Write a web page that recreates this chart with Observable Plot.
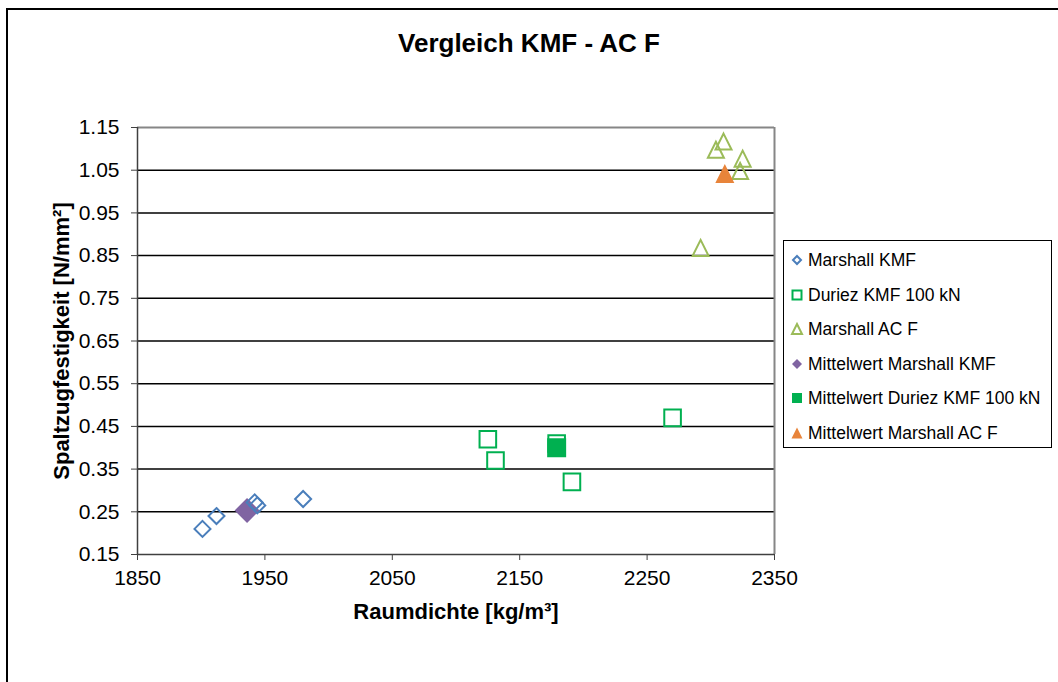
<!DOCTYPE html>
<html><head><meta charset="utf-8">
<script src="https://cdn.jsdelivr.net/npm/d3@7"></script>
<script src="https://cdn.jsdelivr.net/npm/@observablehq/plot@0.6"></script>
<style>
body{margin:0;background:#fff;font-family:"Liberation Sans",Arial,sans-serif;}
#wrap{position:relative;width:1058px;height:682px;overflow:hidden;background:#fff;}
#frame{position:absolute;left:6px;top:8px;width:1200px;height:800px;border-left:2px solid #000;border-top:2px solid #000;}
#title{position:absolute;left:0;width:1058px;top:28px;text-align:center;font-weight:bold;font-size:26px;line-height:30px;color:#000;}
#chart{position:absolute;left:0;top:0;}
#legend{position:absolute;left:783px;top:240px;width:269px;height:208px;border:1.5px solid #000;box-sizing:border-box;background:#fff;}
.lrow{position:absolute;left:0;height:22px;line-height:22px;font-size:17.5px;white-space:nowrap;color:#000;}
.lrow svg{position:absolute;left:6px;top:4px;}
.lrow span{position:absolute;left:24px;top:0;}
</style></head>
<body>
<div id="wrap">
  <div id="frame"></div>
  <div id="chart"></div>
  <div id="title">Vergleich KMF - AC F</div>
  <div id="legend"></div>
</div>
<script>
// ---- data ----
const xTicks = [1850, 1950, 2050, 2150, 2250, 2350];
const yTicks = [0.15, 0.25, 0.35, 0.45, 0.55, 0.65, 0.75, 0.85, 0.95, 1.05, 1.15];
const gridLines = [0.25, 0.35, 0.45, 0.55, 0.65, 0.75, 0.85, 0.95, 1.05];

const kmfX = [1901, 1912, 1942, 1944, 1980];
const kmfY = [0.21, 0.24, 0.272, 0.265, 0.28];
const duriezX = [2125, 2131, 2179, 2191, 2270];
const duriezY = [0.42, 0.37, 0.41, 0.32, 0.47];
const acfX = [2310, 2304, 2325, 2323, 2292];
const acfY = [1.117, 1.098, 1.077, 1.048, 0.868];
const meanKmfX = [1936], meanKmfY = [0.253];
const meanDurX = [2179], meanDurY = [0.40];
const meanAcfX = [2311], meanAcfY = [1.042];

const seriesNames = ["Marshall KMF", "Duriez KMF 100 kN", "Marshall AC F",
  "Mittelwert Marshall KMF", "Mittelwert Duriez KMF 100 kN", "Mittelwert Marshall AC F"];
const seriesColors = ["#4A7EBB", "#00B050", "#9BBB59", "#8064A2", "#00B050", "#E8843A"];
const seriesShapes = ["diamond", "square", "triangle", "diamond", "square", "triangle"];
const seriesFilled = [false, false, false, true, true, true];

// ---- symbols (half-extent = r) ----
function shape(kind) {
  return {draw(ctx, size) {
    const r = Math.sqrt(size / Math.PI);
    if (kind === "diamond") { ctx.moveTo(0, -r); ctx.lineTo(r, 0); ctx.lineTo(0, r); ctx.lineTo(-r, 0); ctx.closePath(); }
    else if (kind === "square") { ctx.moveTo(-r, -r); ctx.lineTo(r, -r); ctx.lineTo(r, r); ctx.lineTo(-r, r); ctx.closePath(); }
    else { ctx.moveTo(0, -r); ctx.lineTo(r, r); ctx.lineTo(-r, r); ctx.closePath(); }
  }};
}
const pts = (xs, ys) => xs.map((x, i) => ({x, y: ys[i]}));

const open = (data, i, r) => Plot.dot(data, {x: "x", y: "y", symbol: shape(seriesShapes[i]), r,
  fill: "none", stroke: seriesColors[i], strokeWidth: 2});
const filled = (data, i, r) => Plot.dot(data, {x: "x", y: "y", symbol: shape(seriesShapes[i]), r,
  fill: seriesColors[i], stroke: "none"});

const chart = Plot.plot({
  width: 1058, height: 682,
  marginLeft: 137, marginRight: 284, marginTop: 127, marginBottom: 128,
  style: {fontFamily: '"Liberation Sans", Arial, sans-serif', fontSize: "21px", color: "#000", background: "transparent"},
  x: {domain: [1850, 2350]},
  y: {domain: [0.15, 1.15]},
  marks: [
    Plot.ruleY(gridLines, {stroke: "#000", strokeWidth: 1.5}),
    Plot.ruleY([1.15], {stroke: "#868686", strokeWidth: 2}),
    Plot.ruleX([2350], {stroke: "#868686", strokeWidth: 2}),
    Plot.axisX({ticks: xTicks, tickFormat: d => String(d), tickSize: 6, tickPadding: 10, label: null, stroke: "#404040"}),
    Plot.axisY({ticks: yTicks, tickFormat: d => d.toFixed(2), tickSize: 6, tickPadding: 12, label: null, stroke: "#404040"}),
    Plot.ruleX([1850], {stroke: "#404040", strokeWidth: 1.5}),
    Plot.ruleY([0.15], {stroke: "#404040", strokeWidth: 1.5}),
    Plot.text(["Raumdichte [kg/m³]"], {frameAnchor: "bottom", dy: 64, fontWeight: "bold", fontSize: 22}),
    Plot.text(["Spaltzugfestigkeit [N/mm²]"], {frameAnchor: "left", dx: -76, rotate: -90, textAnchor: "middle", fontWeight: "bold", fontSize: 22}),
    filled(pts(meanKmfX, meanKmfY), 3, 12.5),
    open(pts(kmfX, kmfY), 0, 8),
    open(pts(duriezX, duriezY), 1, 8.3),
    open(pts(acfX, acfY), 2, 8),
    filled(pts(meanDurX, meanDurY), 4, 9.5),
    filled(pts(meanAcfX, meanAcfY), 5, 9.5)
  ]
});
document.getElementById("chart").appendChild(chart);

// ---- legend ----
const legend = document.getElementById("legend");
const ls = [4, 4.5, 5, 5, 5, 5.5];
seriesNames.forEach((name, i) => {
  const row = document.createElement("div");
  row.className = "lrow";
  row.style.top = (8 + i * 34.6) + "px";
  const s = 14, c = 7, r = ls[i];
  let d;
  if (seriesShapes[i] === "diamond") d = `M${c},${c - r}L${c + r},${c}L${c},${c + r}L${c - r},${c}Z`;
  else if (seriesShapes[i] === "square") d = `M${c - r},${c - r}H${c + r}V${c + r}H${c - r}Z`;
  else d = `M${c},${c - r}L${c + r},${c + r}L${c - r},${c + r}Z`;
  const st = seriesFilled[i] ? `fill="${seriesColors[i]}" stroke="none"` : `fill="none" stroke="${seriesColors[i]}" stroke-width="2"`;
  row.innerHTML = `<svg width="${s}" height="${s}"><path d="${d}" ${st}/></svg><span>${name}</span>`;
  legend.appendChild(row);
});
</script>
</body></html>
